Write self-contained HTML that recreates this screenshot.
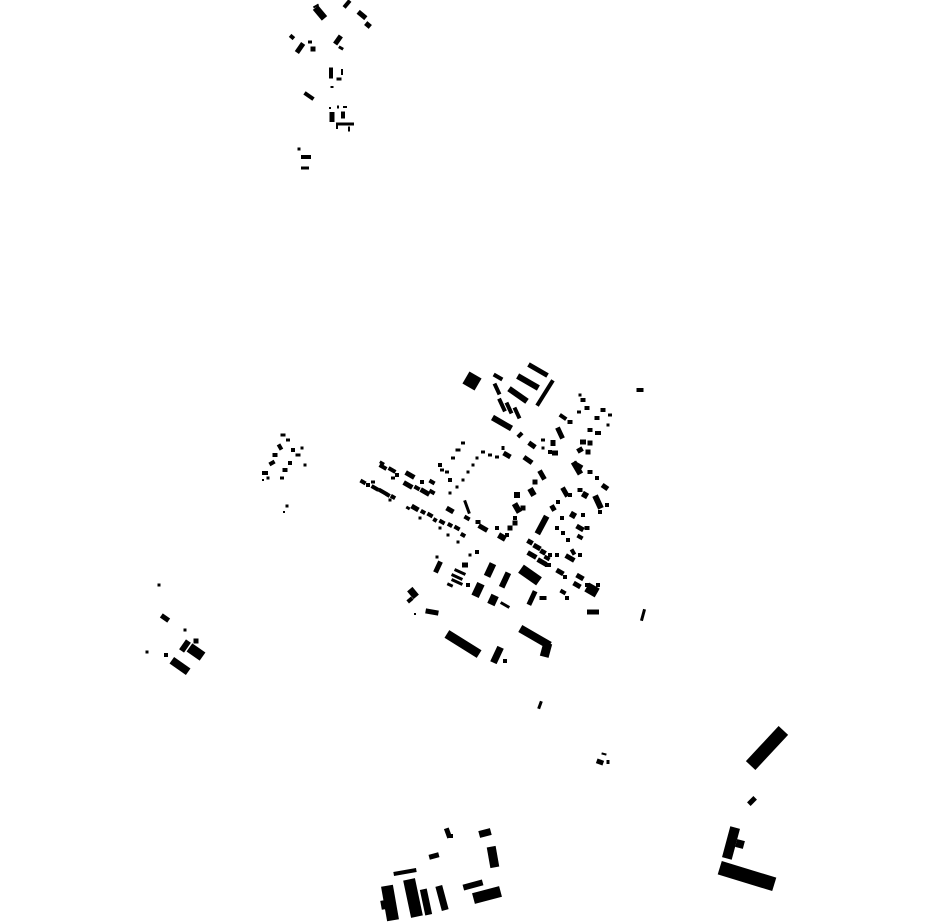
<!DOCTYPE html>
<html><head><meta charset="utf-8"><style>html,body{margin:0;padding:0;background:#fff;width:930px;height:924px;overflow:hidden}svg{display:block}</style></head>
<body>
<svg id="s" width="930" height="924" viewBox="0 0 930 924" xmlns="http://www.w3.org/2000/svg"><rect width="930" height="924" fill="#fff"/></svg>
<script>
const R=[
[320,13,14,7,50],[316,6,6,2,-30],[347,4,9,4,-50],[362,15,10,5,40],[368,25,6,5,40],
[292,37,5,4,40],[300,48,11,5,-55],[310,42,4,3,0],[313,49,5,5,0],[338,40,10,5,-55],[341,48,5,3,30],
[331,73,4,11,0],[342,72,2,6,0],[339,79,5,3,0],[332,87,3,2,0],[309,96,11,4,35],
[332,117,5,10,0],[343,115,4,7,0],[345,107,4,2,0],[338,107,2,3,0],[330,108,2,2,0],[345,124,18,3,0],[349,129,2,5,0],[337,127,2,4,0],
[299,149,3,3,0],[306,157,10,4,0],[305,168,8,3,0],
[767,748,48,13,-47],[752,801,9,5,-45],[731,843,10,32,15],[740,844,8,8,15],[747,876,57,14,17],
[600,762,7,5,20],[608,762,3,4,0],[604,754,5,2,15],
[448,833,5,10,-20],[451,836,4,4,0],[485,833,12,7,-15],[493,857,9,21,-10],[434,856,10,5,-15],[405,872,23,4,-10],
[390,903,12,35,-10],[383,905,4,9,-10],[413,898,12,38,-12],[426,902,7,26,-12],[442,898,7,25,-15],[473,885,20,6,-15],[487,895,28,11,-15],
[472,381,14,14,30],[538,370,22,5,30],[528,382,24,6,30],[498,377,10,4,30],[518,395,22,6,35],[545,393,30,4,-58],
[497,389,4,12,-25],[502,405,4,14,-25],[509,408,4,12,-25],[517,413,4,12,-25],[502,423,22,6,30],[640,390,7,4,0],
[563,417,8,4,35],[570,422,5,4,0],[583,400,5,4,0],[587,408,5,4,0],[579,412,4,3,0],[580,395,3,3,0],
[603,410,5,4,0],[610,415,4,3,0],[597,418,5,4,0],[590,430,5,4,0],[598,433,6,4,0],[608,425,3,3,0],
[560,433,5,12,-25],[553,443,5,6,0],[555,453,6,5,0],[550,452,4,4,0],[583,442,6,5,0],[590,443,5,5,0],[580,450,6,5,-30],[588,452,5,5,0],
[520,435,6,4,-45],[532,445,8,5,35],[543,440,4,3,0],[543,448,3,3,0],[528,460,10,5,35],[507,455,8,5,30],[503,448,3,4,0],
[483,452,4,3,0],[490,455,4,3,0],[497,457,4,3,0],[477,458,3,3,0],[473,465,3,3,0],[468,472,3,3,0],[463,480,3,3,0],[457,487,3,3,0],[450,493,3,3,0],
[467,507,3,14,-20],[450,510,8,5,30],[467,518,6,4,30],[478,522,5,4,0],[483,528,10,5,30],[497,528,4,4,0],[502,537,8,6,30],[510,528,5,5,0],[515,523,5,5,0],
[517,508,6,10,-30],[523,508,5,5,0],[517,495,6,6,0],[532,492,6,8,-30],[535,482,5,5,0],[542,475,5,10,-30],[515,518,4,4,0],[507,535,4,4,0],
[383,467,8,4,30],[392,470,8,4,30],[382,463,5,3,30],[397,475,4,4,0],[393,478,4,3,0],[410,475,10,5,30],[408,485,10,5,30],[417,488,6,4,30],[425,492,10,5,30],
[422,482,4,4,0],[432,482,6,4,30],[440,465,4,4,0],[442,470,4,3,0],[447,472,4,3,0],[450,480,4,4,0],[453,458,4,3,0],[458,450,5,3,0],[463,443,4,3,0],[432,492,6,4,30],
[363,482,6,4,30],[368,485,4,4,0],[373,482,4,3,0],[375,488,8,4,30],[383,492,10,4,30],[388,495,4,4,30],[393,497,5,4,30],[390,500,3,3,0],
[415,508,8,5,30],[423,512,5,4,30],[430,515,6,4,30],[435,520,4,4,30],[442,522,6,4,30],[450,525,5,4,30],[457,528,6,4,30],[463,535,5,4,30],
[408,508,4,3,30],[420,518,3,3,0],[440,528,3,3,0],[448,535,3,3,0],[458,542,3,3,0],
[577,468,6,14,-30],[578,465,10,4,30],[590,472,5,4,0],[597,478,4,4,0],[605,487,7,5,35],[565,492,5,10,-30],[570,495,4,4,0],[580,490,5,4,0],[585,495,6,6,30],
[598,502,6,14,-25],[607,505,4,4,0],[553,508,5,6,-30],[558,502,4,4,0],[562,518,4,4,0],[573,515,6,6,30],[583,515,4,4,0],[600,512,4,4,0],
[542,525,6,20,28],[557,528,4,4,0],[563,533,4,4,0],[580,528,8,5,30],[587,528,5,4,0],[568,540,4,4,0],[580,537,6,4,30],[573,552,4,6,-30],[570,558,10,5,30],[580,555,4,4,0],
[530,542,6,5,30],[537,547,8,5,30],[532,555,10,5,30],[543,552,6,5,30],[547,558,6,4,30],[550,555,4,4,0],[557,555,4,4,0],[542,562,10,5,30],[548,565,6,4,0],
[530,575,22,10,35],[560,572,8,5,30],[565,577,4,4,0],[580,577,8,5,30],[577,585,8,5,30],[587,585,4,4,0],[592,590,12,10,30],[598,585,4,4,0],[563,592,6,4,30],[567,598,4,4,0],[543,598,7,4,0],
[593,612,12,5,0],[532,598,5,15,25],[505,580,6,16,25],[490,570,7,14,25],[478,590,8,14,25],[493,600,8,10,25],[505,605,10,3,30],
[460,572,12,3,25],[457,577,12,3,25],[457,582,12,3,25],[450,585,6,3,25],[465,565,6,5,0],[468,585,4,4,0],[477,552,4,4,0],[470,555,3,3,0],
[438,567,5,12,25],[437,557,3,3,0],[413,593,7,10,-40],[410,600,6,4,-40],[432,612,13,5,10],[415,614,2,2,0],
[463,644,38,9,32],[497,655,7,17,25],[505,661,4,4,0],[535,637,34,8,30],[546,650,9,14,15],
[643,615,3,12,15],[540,705,3,8,20],
[283,435,5,3,0],[288,440,4,3,0],[280,447,4,6,-30],[275,455,5,4,0],[272,463,6,4,-30],[265,473,6,4,0],[268,478,3,3,0],[293,450,4,4,0],[298,455,5,3,0],
[290,463,4,4,0],[285,470,5,4,0],[282,478,4,3,0],[302,448,3,3,0],[305,465,3,3,0],[287,506,3,3,0],[284,512,2,2,0],[263,480,2,2,0],
[159,585,3,3,0],[165,618,9,5,35],[185,630,3,3,0],[196,652,16,10,35],[180,666,20,8,35],[196,641,5,5,0],[147,652,3,3,0],[166,655,4,4,0],[185,646,6,12,35]
];
const s=document.getElementById('s');let h='';
for(const [x,y,w,hh,a] of R){h+=`<rect x="${x-w/2}" y="${y-hh/2}" width="${w}" height="${hh}" transform="rotate(${a} ${x} ${y})" fill="#000"/>`;}
s.insertAdjacentHTML('beforeend',h);
</script>
</body></html>
